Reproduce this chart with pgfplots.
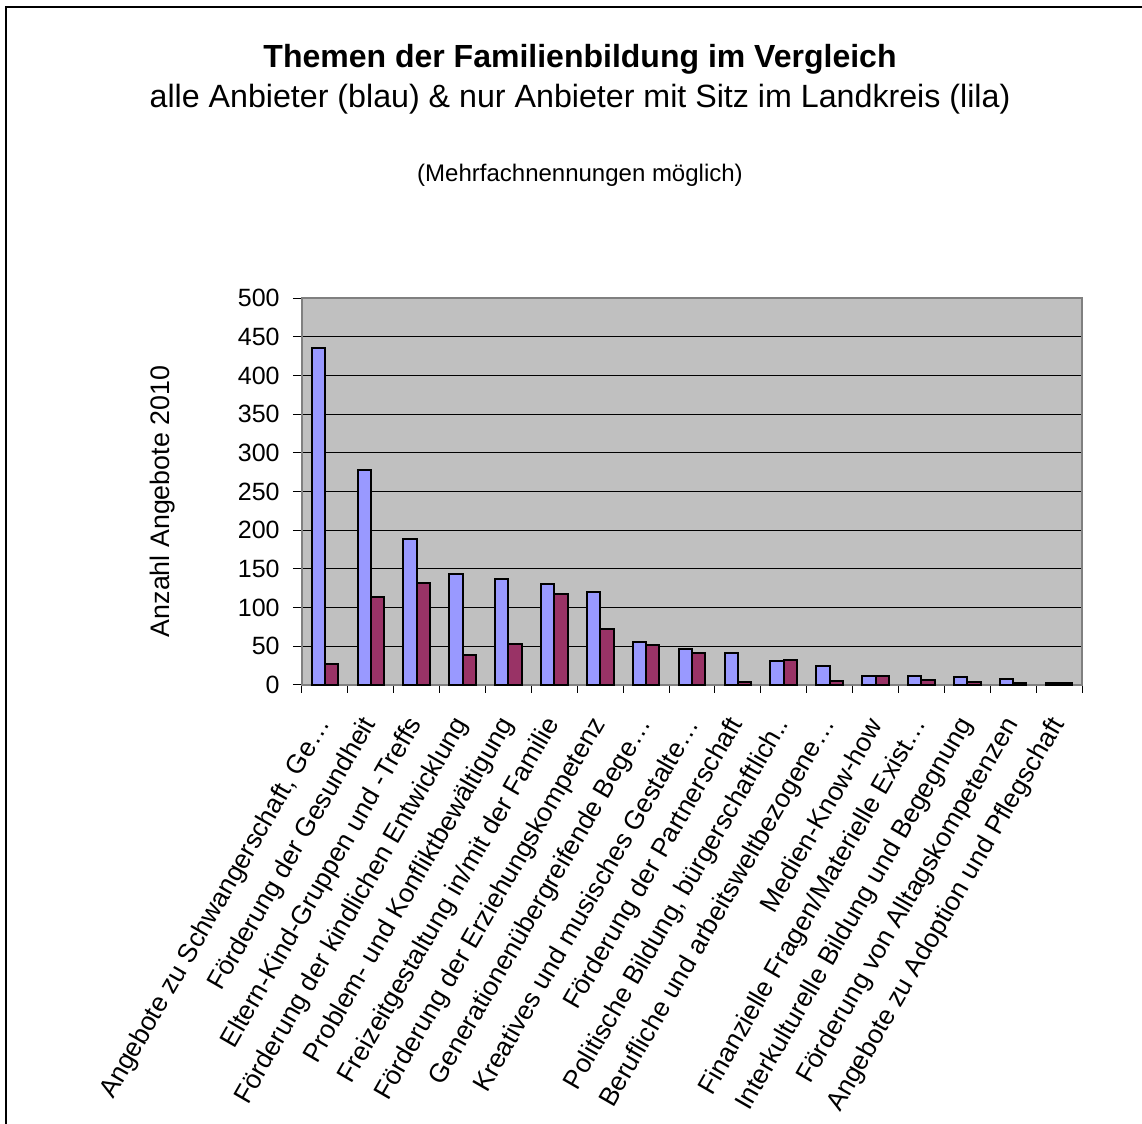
\documentclass[border=0pt]{standalone}
\usepackage{fontspec}
\setmainfont{Liberation Sans}
\usepackage{pgfplots}
\pgfplotsset{compat=1.18}
\definecolor{blau}{HTML}{9999FF}
\definecolor{lila}{HTML}{993366}
\definecolor{flaeche}{HTML}{C0C0C0}
\definecolor{rahmen}{HTML}{808080}

% Werte: alle Anbieter / Anbieter mit Sitz im Landkreis
\pgfplotstableread{
x alle landkreis
0  436 27
1  278 114
2  188 132
3  144 39
4  137 53
5  130 117
6  120 72
7  56  52
8  47  41
9  41  4
10 31  32
11 25  5
12 11  11
13 11  6
14 10  4
15 8   3
16 2   2
}\themen

\begin{document}
\begin{tikzpicture}
\begin{scope}[x=0.5pt,y=0.5pt]
\path[use as bounding box] (0,0) rectangle (1142,1124);
\draw[line width=1pt] (6,0) -- (6,1117) -- (1142,1117);
\node[anchor=base,font=\fontsize{16}{19}\selectfont\bfseries] at (580,1056) {Themen der Familienbildung im Vergleich};
\node[anchor=base,font=\fontsize{16.1}{19}\selectfont] at (580,1016) {alle Anbieter (blau) \& nur Anbieter mit Sitz im Landkreis (lila)};
\node[anchor=base,font=\fontsize{12}{14}\selectfont] at (580,942) {(Mehrfachnennungen möglich)};
\end{scope}
\begin{axis}[
    at={(151pt,219.5pt)}, anchor=south west,
    scale only axis, width=390pt, height=193.5pt,
    ybar=0pt, bar width=6.65pt,
    xmin=-0.5, xmax=16.5, ymin=0, ymax=500,
    xtick=data,
    xticklabels={Angebote zu Schwangerschaft{,} Ge…, Förderung der Gesundheit, Eltern-Kind-Gruppen und -Treffs, Förderung der kindlichen Entwicklung, Problem- und Konfliktbewältigung, Freizeitgestaltung in/mit der Familie, Förderung der Erziehungskompetenz, Generationenübergreifende Bege…, Kreatives und musisches Gestalte…, Förderung der Partnerschaft, {Politische Bildung, bürgerschaftlich..}, Berufliche und arbeitsweltbezogene…, Medien-Know-how, Finanzielle Fragen/Materielle Exist…, Interkulturelle Bildung und Begegnung, Förderung von Alltagskompetenzen, Angebote zu Adoption und Pflegschaft},
    minor xtick={-0.5,0.5,...,16.5},
    major x tick style={draw=none},
    ytick={0,50,...,500},
    tick pos=left,
    ymajorgrids, grid style={black, line width=0.5pt},
    tick align=outside, tick style={black, line width=0.5pt},
    major tick length=4.5pt, minor tick length=4pt,
    axis line style={rahmen, line width=1pt},
    axis background/.style={fill=flaeche},
    /pgf/number format/assume math mode=true,
    ticklabel style={font=\fontsize{12.5}{15}\selectfont},
    xticklabel style={rotate=60, anchor=east, inner sep=0pt, font=\fontsize{13.2}{15}\selectfont},
    xticklabel shift=13pt,
    yticklabel style={inner sep=0pt},
    yticklabel shift=6.5pt,
    ylabel={Anzahl Angebote 2010},
    every axis y label/.style={at={(rel axis cs:0,0.5)}, xshift=-69.5pt, yshift=-5pt, rotate=90, anchor=center, font=\fontsize{13.4}{15}\selectfont},
    clip=false,
]
\addplot[draw=black, line width=1pt, fill=blau] table[x=x, y=alle] {\themen};
\addplot[draw=black, line width=1pt, fill=lila] table[x=x, y=landkreis] {\themen};
\end{axis}
\end{tikzpicture}
\end{document}
